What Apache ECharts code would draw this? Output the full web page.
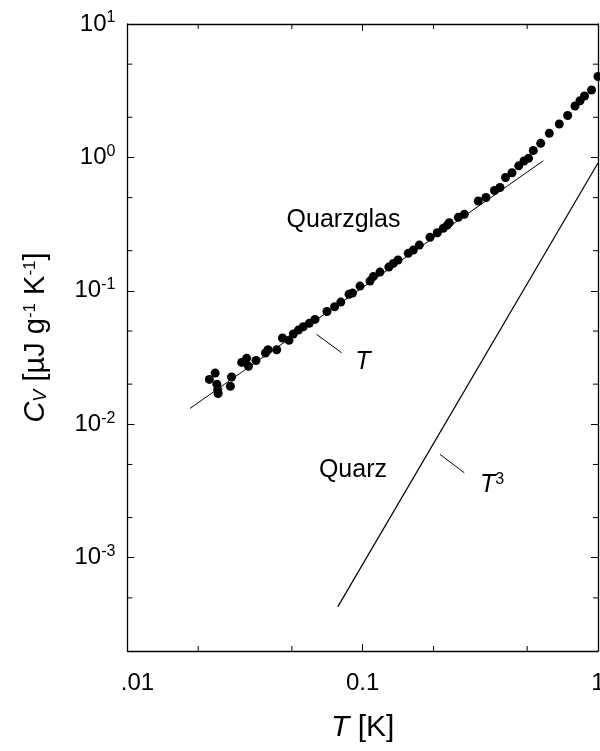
<!DOCTYPE html>
<html><head><meta charset="utf-8">
<script src="https://cdn.jsdelivr.net/npm/echarts@6/dist/echarts.min.js"></script>
<style>html,body{margin:0;padding:0;background:#fff}#c{width:600px;height:751px}</style>
</head><body><div id="c"></div>
<script>
// Quarzglas measured points (T in K, C_V in µJ g^-1 K^-1)
const tGlass = [0.0223,0.0236,0.0240,0.0242,0.0243,0.0274,0.0277,0.0306,0.0321,0.0327,0.0352,0.0386,0.0396,0.0431,0.0456,0.0486,0.0507,0.0533,0.0559,0.0593,0.0627,0.0705,0.0760,0.0807,0.0875,0.0905,0.0974,0.1074,0.1109,0.1184,0.1291,0.1349,0.1413,0.1562,0.1641,0.1740,0.1932,0.2075,0.2200,0.2288,0.2333,0.2548,0.2703,0.3099,0.3342,0.3632,0.3832,0.4046,0.4311,0.4603,0.4848,0.5067,0.5309,0.5708,0.6209,0.6847,0.7433,0.7985,0.8387,0.8763,0.9385,1.0];
const cGlass = [0.0217,0.0242,0.0200,0.0182,0.0170,0.0193,0.0226,0.0291,0.0312,0.0272,0.0301,0.0342,0.0362,0.0362,0.0443,0.0426,0.0475,0.0508,0.0538,0.0571,0.0611,0.0700,0.0760,0.0824,0.0943,0.0963,0.1086,0.1184,0.1280,0.1383,0.1508,0.1607,0.1702,0.1910,0.2021,0.2204,0.2518,0.2726,0.2941,0.3113,0.3240,0.3556,0.3746,0.4711,0.5005,0.5648,0.5948,0.7070,0.7677,0.8650,0.9397,0.9847,1.126,1.275,1.516,1.779,2.060,2.428,2.661,2.885,3.201,4.040];
// Linear-in-T guide line (Quarzglas)
const linT = [0.01845, 0.5855];
const linC = [0.01315, 0.9447];
// T^3 line (Quarz)
const cubeT = [0.0783, 1.0];
const cubeC = [0.000428, 0.908];
// leader lines for labels
const leadLinT = [0.0637, 0.0814];
const leadLinC = [0.0472, 0.03436];
const leadCubeT = [0.2131, 0.2703];
const leadCubeC = [0.005948, 0.004329];
// axes
const xMin = 0.01, xMax = 1;
const yMin = 0.0002, yMax = 10;
const xMinor = [0.02, 0.05, 0.2, 0.5];
const yMinor = [0.0005, 0.002, 0.005, 0.02, 0.05, 0.2, 0.5, 2, 5];
const xLabels = {'0.01': '{p|.01}', '0.1': '0.1', '1': '1'};
// annotation positions (data coords)
const annQuarzglas = [0.0829, 0.3395];
const annT = [0.1003, 0.02926];
const annQuarz = [0.0909, 0.004536];
const annT3 = [0.3151, 0.0035];

const FF = '"Liberation Sans", Arial, sans-serif';
const zip = (a, b) => a.map((v, i) => [v, b[i]]);
const chart = echarts.init(document.getElementById('c'), null, {renderer: 'canvas'});

const axisCommon = {
  axisLine: {show: true, onZero: false, lineStyle: {color: '#000', width: 1.3}},
  axisTick: {show: true, inside: true, length: 7, lineStyle: {color: '#000', width: 1}},
  splitLine: {show: false},
  minorTick: {show: false}
};

function xFmt(v) {
  const l = Math.log10(v);
  const e = Math.round(l);
  if (Math.abs(l - e) > 1e-6) return '';
  return xLabels[String(Math.pow(10, e))] || '';
}
function yFmt(v) {
  const l = Math.log10(v);
  const e = Math.round(l);
  if (Math.abs(l - e) > 1e-6) return '';
  return '{b|10}{s|' + e + '}';
}

const lineStyleBlack = (w) => ({color: '#000', width: w});

chart.setOption({
  animation: false,
  backgroundColor: '#fff',
  grid: {left: 127.4, right: 2, top: 24, bottom: 100, containLabel: false, outerBoundsMode: 'none'},
  xAxis: [
    Object.assign({type: 'log', logBase: 10, min: xMin, max: xMax, position: 'bottom',
      name: '{i|T} [K]', nameLocation: 'middle', nameGap: 62,
      nameTextStyle: {fontFamily: FF, fontSize: 30, color: '#000', rich: {i: {fontStyle: 'italic', fontFamily: FF, fontSize: 30, color: '#000'}}},
      axisLabel: {show: true, margin: 20, formatter: xFmt, fontFamily: FF, fontSize: 24, color: '#000',
        rich: {p: {fontFamily: FF, fontSize: 24, color: '#000', padding: [0, 0, 0, 20]}}}
    }, axisCommon),
    Object.assign({type: 'log', logBase: 10, min: xMin, max: xMax, position: 'top', axisLabel: {show: false}}, axisCommon)
  ],
  yAxis: [
    Object.assign({type: 'log', logBase: 10, min: yMin, max: yMax, position: 'left',
      name: '{i|C}{sub|V} [µJ g{sup|-1} K{sup|-1}]', nameLocation: 'middle', nameGap: 77, nameRotate: 90,
      nameTextStyle: {fontFamily: FF, fontSize: 29, color: '#000', rich: {
        i: {fontStyle: 'italic', fontFamily: FF, fontSize: 29, color: '#000'},
        sub: {fontStyle: 'italic', fontFamily: FF, fontSize: 18, color: '#000', verticalAlign: 'bottom'},
        sup: {fontFamily: FF, fontSize: 17, color: '#000', verticalAlign: 'top'}
      }},
      axisLabel: {show: true, margin: 12, formatter: yFmt, fontFamily: FF, color: '#000',
        rich: {b: {fontFamily: FF, fontSize: 24, color: '#000', lineHeight: 28},
               s: {fontFamily: FF, fontSize: 16, color: '#000', verticalAlign: 'top', lineHeight: 16}}}
    }, axisCommon),
    Object.assign({type: 'log', logBase: 10, min: yMin, max: yMax, position: 'right', axisLabel: {show: false}}, axisCommon)
  ],
  series: [
    {type: 'line', data: zip(linT, linC), symbol: 'none', lineStyle: lineStyleBlack(1), silent: true, z: 2},
    {type: 'line', data: zip(cubeT, cubeC), symbol: 'none', lineStyle: lineStyleBlack(1.2), silent: true, z: 2},
    {type: 'line', data: zip(leadLinT, leadLinC), symbol: 'none', lineStyle: lineStyleBlack(1), silent: true, z: 2},
    {type: 'line', data: zip(leadCubeT, leadCubeC), symbol: 'none', lineStyle: lineStyleBlack(1), silent: true, z: 2},
    {type: 'scatter', data: zip(tGlass, cGlass), symbol: 'circle', symbolSize: 9, itemStyle: {color: '#000', opacity: 1}, clip: false, z: 3}
  ]
});

const px = (p) => chart.convertToPixel({xAxisIndex: 0, yAxisIndex: 0}, p);
const g = [];
const xb = px([xMin, yMin]), xt = px([xMax, yMax]);
xMinor.forEach(v => {
  const x = px([v, yMin])[0];
  g.push({type: 'line', shape: {x1: x, y1: xb[1], x2: x, y2: xb[1] - 5}, style: {stroke: '#000', lineWidth: 1}});
  g.push({type: 'line', shape: {x1: x, y1: xt[1], x2: x, y2: xt[1] + 5}, style: {stroke: '#000', lineWidth: 1}});
});
yMinor.forEach(v => {
  const y = px([xMin, v])[1];
  g.push({type: 'line', shape: {x1: xb[0], y1: y, x2: xb[0] + 5, y2: y}, style: {stroke: '#000', lineWidth: 1}});
  g.push({type: 'line', shape: {x1: xt[0], y1: y, x2: xt[0] - 5, y2: y}, style: {stroke: '#000', lineWidth: 1}});
});
const txt = (p, text, extra) => {
  const q = px(p);
  return Object.assign({type: 'text', x: q[0], y: q[1], style: Object.assign({text: text, font: '25px ' + FF, fill: '#000', align: 'center', verticalAlign: 'middle'}, extra || {})});
};
g.push(txt(annQuarzglas, 'Quarzglas'));
g.push(txt(annQuarz, 'Quarz'));
g.push(txt(annT, 'T', {font: 'italic 25px ' + FF}));
g.push(txt(annT3, '{t|T}{s|3}', {align: 'left', rich: {t: {font: 'italic 25px ' + FF, fill: '#000', lineHeight: 28}, s: {font: '16px ' + FF, fill: '#000', verticalAlign: 'top', lineHeight: 16}}}));
chart.setOption({graphic: g});
</script>
</body></html>
